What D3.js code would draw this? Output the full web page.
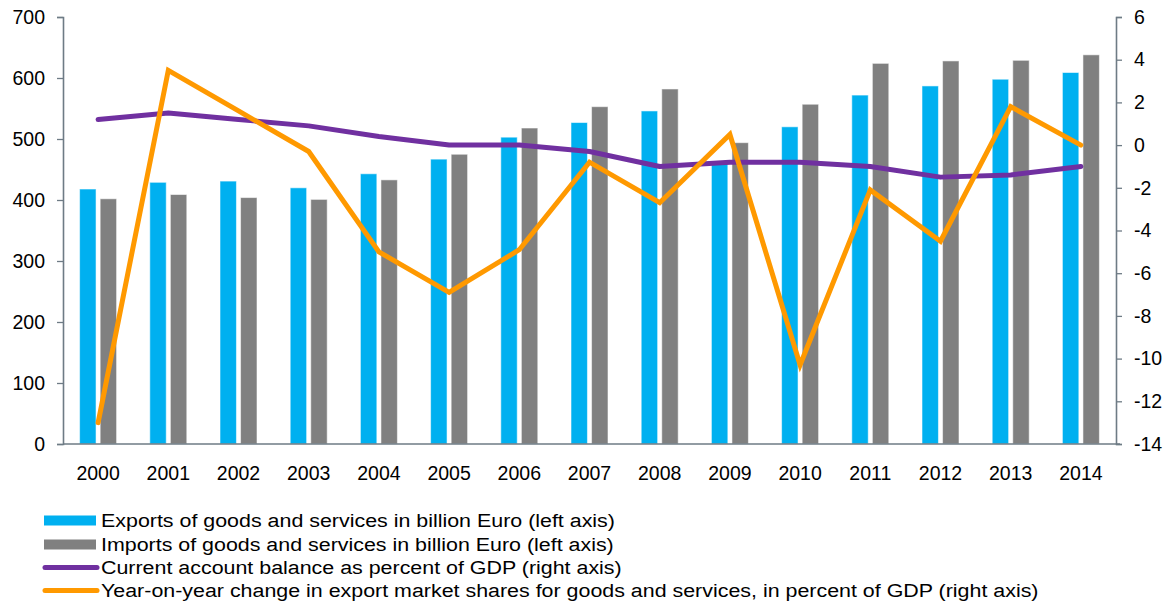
<!DOCTYPE html>
<html>
<head>
<meta charset="utf-8">
<script src="https://cdn.jsdelivr.net/npm/d3@7"></script>
<style>
  html, body { margin: 0; padding: 0; background: #fff; }
  svg { display: block; font-family: "Liberation Sans", Arial, sans-serif; }
</style>
</head>
<body>
<svg id="chart" width="1175" height="602"></svg>
<script>
// Trade and balance figures, 2000–2014
const years = ["2000","2001","2002","2003","2004","2005","2006","2007","2008","2009","2010","2011","2012","2013","2014"];
const exportsBn = [418, 429, 431, 420, 443, 467, 503, 527, 546, 459, 520, 572, 587, 598, 609];
const importsBn = [402, 409, 404, 401, 433, 475, 518, 553, 582, 494, 557, 624, 628, 629, 638];
const currentAccount = [1.2, 1.5, 1.2, 0.9, 0.4, 0.0, 0.0, -0.3, -1.0, -0.8, -0.8, -1.0, -1.5, -1.4, -1.0];
const marketShareChange = [-13.0, 3.5, 1.6, -0.3, -5.0, -6.9, -4.9, -0.8, -2.7, 0.5, -10.3, -2.1, -4.5, 1.8, 0.0];
const leftTicks = [0, 100, 200, 300, 400, 500, 600, 700];
const rightTicks = [-14, -12, -10, -8, -6, -4, -2, 0, 2, 4, 6];
const legendLabels = [
  "Exports of goods and services in billion Euro (left axis)",
  "Imports of goods and services in billion Euro (left axis)",
  "Current account balance as percent of GDP (right axis)",
  "Year-on-year change in export market shares for goods and services, in percent of GDP (right axis)"
];

const colors = { exp: "#00B0F0", imp: "#808080", ca: "#7030A0", ms: "#FF9900", axis: "#6e7b85" };

const svg = d3.select("#chart");
const plotLeft = 63, plotRight = 1116, plotTop = 17, plotBottom = 444;

const x = d3.scaleBand().domain(years).range([plotLeft, plotRight]).padding(0);
const yL = d3.scaleLinear().domain([0, 700]).range([plotBottom, plotTop]);
const yR = d3.scaleLinear().domain([-14, 6]).range([plotBottom, plotTop]);
const bw = x.bandwidth();
const sub = d3.scaleBand().domain(["exp", "imp"])
  .range([bw / 2 - 18.5, bw / 2 + 18.5]).paddingInner(0.2).paddingOuter(0);

// Bars
const bars = svg.append("g");
const rows = years.map((yr, i) => ({ yr, exp: exportsBn[i], imp: importsBn[i] }));
["exp", "imp"].forEach(k => {
  bars.selectAll(null).data(rows).enter().append("rect")
    .attr("x", d => x(d.yr) + sub(k))
    .attr("y", d => yL(d[k]))
    .attr("width", sub.bandwidth())
    .attr("height", d => yL(0) - yL(d[k]))
    .attr("fill", colors[k])
    .attr("stroke", "#ffffff")
    .attr("stroke-opacity", 0.55)
    .attr("stroke-width", 1);
});

// Left axis
const axL = svg.append("g").attr("transform", `translate(${plotLeft},0)`)
  .call(d3.axisLeft(yL).tickValues(leftTicks).tickSize(6).tickPadding(12));
// Right axis
const axR = svg.append("g").attr("transform", `translate(${plotRight},0)`)
  .call(d3.axisRight(yR).tickValues(rightTicks).tickSize(6).tickPadding(12)
    .tickFormat(d => d < 0 ? "-" + Math.abs(d) : d));
// Bottom axis (no ticks)
const axB = svg.append("g").attr("transform", `translate(0,${plotBottom})`)
  .call(d3.axisBottom(x).tickSize(0).tickPadding(22));

[axL, axR, axB].forEach(g => {
  g.selectAll("path.domain").attr("stroke", colors.axis).attr("stroke-width", 1.6);
  g.selectAll(".tick line").attr("stroke", colors.axis).attr("stroke-width", 1.3);
  g.selectAll("text").attr("font-size", 19.5).attr("fill", "#000")
    .attr("font-family", "Liberation Sans, Arial, sans-serif");
});
axB.select("path.domain").attr("d", `M${plotLeft},0H${plotRight + 4}`);

// Lines
const cx = yr => x(yr) + bw / 2;
const lineGen = d3.line().x((d, i) => cx(years[i])).y(d => yR(d));
svg.append("path").datum(currentAccount)
  .attr("d", lineGen).attr("fill", "none").attr("stroke", colors.ca)
  .attr("stroke-width", 5).attr("stroke-linecap", "round").attr("stroke-linejoin", "round");
svg.append("path").datum(marketShareChange)
  .attr("d", lineGen).attr("fill", "none").attr("stroke", colors.ms)
  .attr("stroke-width", 5).attr("stroke-linecap", "round").attr("stroke-linejoin", "miter");

// Legend
const lg = svg.append("g");
const rowY = [520.5, 544.5, 567.5, 590.5];
lg.append("rect").attr("x", 44).attr("y", rowY[0] - 5).attr("width", 52).attr("height", 10).attr("fill", colors.exp);
lg.append("rect").attr("x", 44).attr("y", rowY[1] - 5).attr("width", 52).attr("height", 10).attr("fill", colors.imp);
lg.append("line").attr("x1", 45).attr("x2", 97).attr("y1", rowY[2]).attr("y2", rowY[2])
  .attr("stroke", colors.ca).attr("stroke-width", 5).attr("stroke-linecap", "round");
lg.append("line").attr("x1", 45).attr("x2", 97).attr("y1", rowY[3]).attr("y2", rowY[3])
  .attr("stroke", colors.ms).attr("stroke-width", 5).attr("stroke-linecap", "round");
// legend labels use a slightly widened face
lg.selectAll("text").data(legendLabels).enter().append("text")
  .attr("transform", (d, i) => `translate(101,${rowY[i]}) scale(1.127,1)`)
  .attr("dy", "0.35em")
  .attr("font-size", 19).attr("fill", "#000").text(d => d);
</script>
</body>
</html>
